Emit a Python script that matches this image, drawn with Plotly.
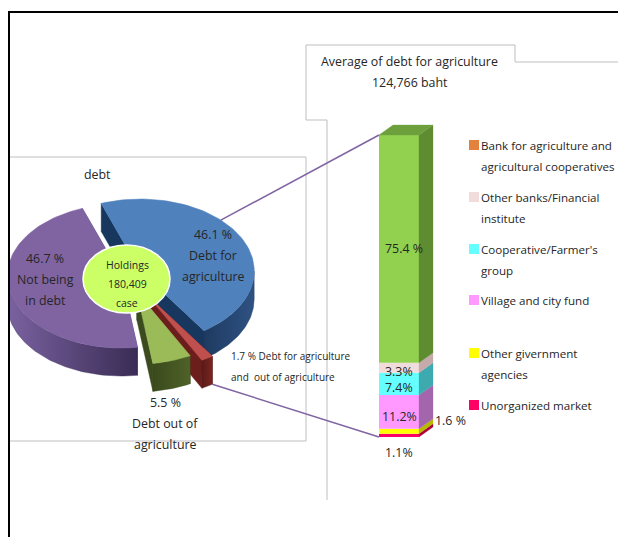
import numpy as np
import plotly.graph_objects as go

# ---------------- data ----------------
pie_names = ["Debt for agriculture", "Debt for agriculture and  out of agriculture",
             "Debt out of agriculture", "Not being in debt"]
pie_values = [46.1, 1.7, 5.5, 46.7]
holdings_cases = "180,409"
average_debt_baht = "124,766"

bar_sources = ["Bank for agriculture and agricultural cooperatives",
               "Other banks/Financial institute",
               "Cooperative/Farmer's group",
               "Village and city fund",
               "Other givernment agencies",
               "Unorganized market"]
bar_values = [75.4, 3.3, 7.4, 11.2, 1.6, 1.1]
legend_lines = [["Bank for agriculture and", "agricultural cooperatives"],
                ["Other banks/Financial", "institute"],
                ["Cooperative/Farmer's", "group"],
                ["Village and city fund"],
                ["Other givernment", "agencies"],
                ["Unorganized market"]]

# ---------------- style ----------------
W, H = 626, 537
OFF = 8  # page body margin: the figure starts 8px in from the window edge
FW, FH = W - OFF, H - OFF
FONT = "Open Sans"
FS = 12.4
FS_LEG = 11.6
TXT = "#262626"
CX, CY, RX, RY, DEPTH, START = 128, 275, 114, 72, 28, 110
pie_pull = [0.12, 0.35, 0.25, 0.06]
pie_top = ["#4F81BD", "#C0504D", "#9BBB59", "#8064A2"]
pie_wall_a = ["#2E5283", "#7A2523", "#4F6228", "#7A62A0"]
pie_wall_b = ["#1E3A60", "#5A1A18", "#3A4A1C", "#3A2C55"]
pie_radial = ["#17375E", "#6B1E1C", "#3C4B1E", "#4A3A68"]

bar_front = ["#92D050", "#F2DCDB", "#66FFFF", "#FF99FF", "#FFFF00", "#FF0066"]
bar_side = ["#5E8C31", "#C4AAAA", "#3DAAB0", "#A366AD", "#B8B800", "#B0003A"]
bar_top_color = "#6E9F3D"
legend_colors = ["#E2823C", "#F2DCDB", "#66FFFF", "#FF99FF", "#FFFF00", "#FF0066"]

BAR_LEFT_PX, BAR_TOP_PX, BAR_BOTTOM_PX = 379, 135, 437
BAR_W, BAR_DX, BAR_DY_PX = 40, 14, 10
PXU = (BAR_BOTTOM_PX - BAR_TOP_PX) / 100.0
Y2R = [-15, 115]
X2R = [-5, 60]

fig = go.Figure()


def poly(xs, ys, color, xa="x", ya="y", lw=0.6, grad=None):
    kw = {}
    if grad is not None:
        kw["fillgradient"] = dict(type="horizontal", colorscale=[[0, grad[0]], [1, grad[1]]])
    else:
        kw["fillcolor"] = color
    fig.add_trace(go.Scatter(x=list(xs) + [xs[0]], y=list(ys) + [ys[0]], mode="lines",
                             fill="toself", line=dict(color=color, width=lw),
                             hoverinfo="skip", showlegend=False, xaxis=xa, yaxis=ya, **kw))


# ---------------- 3D exploded pie ----------------
tot = sum(pie_values)
starts, ends, offs = [], [], []
a = START
for v, p in zip(pie_values, pie_pull):
    span = v / tot * 360.0
    s, e = a, a - span
    m = np.radians((s + e) / 2)
    starts.append(s); ends.append(e)
    offs.append((p * RX * np.cos(m), -p * RY * np.sin(m)))
    a = e


def P(t, off, drop=0.0):
    r = np.radians(t)
    return CX + RX * np.cos(r) + off[0], CY - RY * np.sin(r) + off[1] + drop


faces = []
for i in range(len(pie_values)):
    off = offs[i]
    c = (CX + off[0], CY + off[1])
    for t in (starts[i], ends[i]):
        p = P(t, off)
        xs = [c[0], p[0], p[0], c[0]]
        ys = [c[1], p[1], p[1] + DEPTH, c[1] + DEPTH]
        faces.append((max(ys) - 1, xs, ys, pie_radial[i], None))
    lo, hi = max(ends[i], -180), min(starts[i], 0)
    if lo < hi:
        ts = np.linspace(hi, lo, 60)
        top = [P(t, off) for t in ts]
        xs = [q[0] for q in top] + [q[0] for q in top[::-1]]
        ys = [q[1] for q in top] + [q[1] + DEPTH for q in top[::-1]]
        ga, gb = pie_wall_a[i], pie_wall_b[i]
        mid = np.cos(np.radians((hi + lo) / 2))
        grad = (ga, gb) if mid < 0 else (gb, ga)
        faces.append((max(ys), xs, ys, pie_wall_b[i], grad))

for key, xs, ys, col, grad in sorted(faces, key=lambda q: q[0]):
    poly(xs, ys, col, grad=grad, lw=0.4)

for i in range(len(pie_values)):
    off = offs[i]
    ts = np.linspace(starts[i], ends[i], 80)
    xs = [CX + off[0]] + [P(t, off)[0] for t in ts]
    ys = [CY + off[1]] + [P(t, off)[1] for t in ts]
    poly(xs, ys, pie_top[i])

# ---------------- 3D bar ----------------
cum = 0.0
segs = []
for i in reversed(range(len(bar_values))):
    segs.append((i, cum, cum + bar_values[i]))
    cum += bar_values[i]
dyu = BAR_DY_PX / PXU
for i, b, t in segs:
    fig.add_trace(go.Bar(x=[BAR_W / 2], y=[bar_values[i]], base=[b], width=BAR_W,
                         marker=dict(color=bar_front[i], line=dict(width=0)),
                         hoverinfo="skip", showlegend=False, xaxis="x2", yaxis="y2"))
    poly([BAR_W, BAR_W + BAR_DX, BAR_W + BAR_DX, BAR_W], [b, b + dyu, t + dyu, t],
         bar_side[i], "x2", "y2", 0.3)
poly([0, BAR_W, BAR_W + BAR_DX, BAR_DX], [cum, cum, cum + dyu, cum + dyu],
     bar_top_color, "x2", "y2", 0.3)

# ---------------- layout ----------------
shapes = []
shapes.append(dict(type="path", xref="x", yref="y", layer="below",
                   path="M 0 157 L 306 157 L 306 441 L 0 441",
                   line=dict(color="#BFBFBF", width=1)))
shapes.append(dict(type="path", xref="x", yref="y", layer="below",
                   path="M 630 62 L 515 62 L 515 45 L 306 45 L 306 120 L 327 120 L 327 500",
                   line=dict(color="#BFBFBF", width=1)))
shapes.append(dict(type="path", xref="x", yref="y", layer="above",
                   path="M 9 545 L 9 12 L 630 12", line=dict(color="black", width=2)))
pb = P(45, offs[0])
pr = P(starts[1], offs[1], DEPTH)
for (x0, y0), (x1, y1) in [(pb, (BAR_LEFT_PX, BAR_TOP_PX)), (pr, (BAR_LEFT_PX, BAR_BOTTOM_PX))]:
    shapes.append(dict(type="line", xref="x", yref="y", x0=x0, y0=y0, x1=x1, y1=y1,
                       layer="above", line=dict(color="#8064A2", width=1.5)))
shapes.append(dict(type="circle", xref="x", yref="y", x0=83, x1=170, y0=245, y1=313,
                   fillcolor="#CCFF66", line=dict(color="white", width=1.5), layer="above"))
leg_y = [145, 197, 249, 300, 353, 405]
for c, y in zip(legend_colors, leg_y):
    shapes.append(dict(type="rect", xref="x", yref="y", x0=469, x1=479, y0=y - 5, y1=y + 5,
                       fillcolor=c, line=dict(width=0), layer="above"))

ann = []


def tx(x, y, s, size=FS, xanchor="center", xref="x", yref="y", yshift=0, xshift=0):
    ann.append(dict(x=x, y=y, text=s, xref=xref, yref=yref, showarrow=False,
                    xanchor=xanchor, yanchor="middle", yshift=yshift, xshift=xshift,
                    font=dict(family=FONT, size=size, color=TXT)))


def lines(x, y0, ls, sp=21, size=FS, xanchor="center"):
    for k, s in enumerate(ls):
        tx(x, y0 + k * sp, s, size, xanchor)


tx(97, 174, "debt")
tx(409, 61, "Average of debt for agriculture")
tx(410, 82, average_debt_baht + " baht")
lines(213, 234, ["%.1f %%" % pie_values[0], "Debt for", "agriculture"])
lines(45, 258, ["%.1f %%" % pie_values[3], "Not being", "in debt"])
lines(165, 402, ["%.1f %%" % pie_values[2], "Debt out of", "agriculture"])
lines(229, 356, ["%.1f %% Debt for agriculture" % pie_values[1], "and  out of agriculture"],
      sp=21, size=10, xanchor="left")
lines(127, 265, ["Holdings", holdings_cases, "case"], sp=19, size=10.5)

for k, ls in enumerate(legend_lines):
    lines(479, leg_y[k], ls, sp=21, size=FS_LEG, xanchor="left")

# (x in bar units, x shift px, y shift px, format)
lab_pos = {0: (BAR_W / 2, 5, 0, "%.1f %%"), 1: (BAR_W / 2, 0, -4, "%.1f%%"),
           2: (BAR_W / 2, 0, -4, "%.1f%%"), 3: (BAR_W / 2, 0, -5, "%.1f%%"),
           4: (BAR_W + BAR_DX, 17, 11, "%.1f %%"), 5: (BAR_W / 2, 0, -17, "%.1f%%")}
for i, b, t in segs:
    xx, xs_, ys_, fmt = lab_pos[i]
    tx(xx, (b + t) / 2, fmt % bar_values[i], FS, "center", "x2", "y2", ys_, xs_)


def px_x(px):
    return (px - OFF) / FW


def px_y(py):
    return 1 - (py - OFF) / FH


fig.update_layout(
    width=FW, height=FH, margin=dict(l=0, r=0, t=0, b=0),
    paper_bgcolor="white", plot_bgcolor="rgba(0,0,0,0)",
    showlegend=False, barmode="overlay",
    xaxis=dict(range=[OFF, W], domain=[0, 1], visible=False, fixedrange=True),
    yaxis=dict(range=[H, OFF], domain=[0, 1], visible=False, fixedrange=True),
    xaxis2=dict(range=X2R, visible=False, anchor="y2", fixedrange=True,
                domain=[px_x(BAR_LEFT_PX + X2R[0]), px_x(BAR_LEFT_PX + X2R[1])]),
    yaxis2=dict(range=Y2R, visible=False, anchor="x2", fixedrange=True,
                domain=[px_y(BAR_BOTTOM_PX - Y2R[0] * PXU),
                        px_y(BAR_TOP_PX - (Y2R[1] - 100) * PXU)]),
    shapes=shapes, annotations=ann,
)
fig.write_html("out.html")
